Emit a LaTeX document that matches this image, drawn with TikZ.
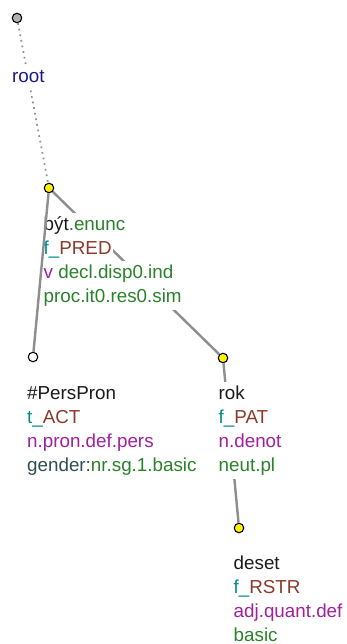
\documentclass[tikz,border=0pt]{standalone}
\usepackage{fontspec}
\setmainfont{Liberation Sans}
\definecolor{cname}{HTML}{1A1A1A}
\definecolor{cfun}{HTML}{008B8B}
\definecolor{cfunc}{HTML}{8B3A2A}
\definecolor{csem}{HTML}{A020A0}
\definecolor{cgram}{HTML}{2A822A}
\definecolor{cgen}{HTML}{2F4F4F}
\definecolor{croot}{HTML}{1A1A8C}
\definecolor{cedge}{HTML}{8E8E8E}
\begin{document}
\begin{tikzpicture}[x=1pt,y=-1pt,
  tnode/.style={circle,draw=black,line width=1.1pt,minimum size=9.5pt,inner sep=0pt},
  lbl/.style={anchor=base west,fill=white,inner xsep=1pt,inner ysep=0pt,
    text height=16.8pt,text depth=7.5pt,font=\fontsize{18.8}{24}\selectfont},
  edge/.style={draw=cedge,line width=2.4pt},
  rootedge/.style={draw=cedge,line width=1.7pt,dash pattern=on 1.7pt off 4pt}]
\useasboundingbox (0,0) rectangle (347,644);
% nodes
\node[tnode,fill=gray!60] (root) at (17,18) {};
\node[tnode,fill=yellow] (byt) at (49,188) {};
\node[tnode,fill=white] (pp) at (33,357) {};
\node[tnode,fill=yellow] (rok) at (223,358) {};
\node[tnode,fill=yellow] (des) at (239,528) {};
% edges behind labels
\draw[rootedge] (root) -- (byt);
\draw[edge] (byt) -- (rok);
\draw[edge] (rok) -- (des);
% labels
\node[lbl,text=croot] (lroot) at (11,83) {root};
\node[lbl] (b1) at (42.5,230) {\textcolor{cname}{být}\textcolor{cgram}{.enunc}};
\node[lbl] (b2) at (42.5,254) {\textcolor{cfun}{f\_}\textcolor{cfunc}{PRED}};
\node[lbl] (b3) at (42.5,278) {\textcolor{csem}{v} \textcolor{cgram}{decl.disp0.ind}};
\node[lbl] (b4) at (42.5,302) {\textcolor{cgram}{proc.it0.res0.sim}};
\node[lbl] (p1) at (26,399) {\textcolor{cname}{\#PersPron}};
\node[lbl] (p2) at (26,423) {\textcolor{cfun}{t\_}\textcolor{cfunc}{ACT}};
\node[lbl] (p3) at (26,447) {\textcolor{csem}{n.pron.def.pers}};
\node[lbl] (p4) at (26,471) {\textcolor{cgen}{gender:}\textcolor{cgram}{nr.sg.1.basic}};
\node[lbl] (r1) at (217.5,399) {\textcolor{cname}{rok}};
\node[lbl] (r2) at (217.5,423) {\textcolor{cfun}{f\_}\textcolor{cfunc}{PAT}};
\node[lbl] (r3) at (217.5,447) {\textcolor{csem}{n.denot}};
\node[lbl] (r4) at (217.5,471) {\textcolor{cgram}{neut.pl}};
\node[lbl] (d1) at (232.5,569) {\textcolor{cname}{deset}};
\node[lbl] (d2) at (232.5,593) {\textcolor{cfun}{f\_}\textcolor{cfunc}{RSTR}};
\node[lbl] (d3) at (232.5,617) {\textcolor{csem}{adj.quant.def}};
\node[lbl] (d4) at (232.5,641) {\textcolor{cgram}{basic}};
% edge passing left of labels
\draw[edge] (byt) -- (pp);
\end{tikzpicture}
\end{document}
